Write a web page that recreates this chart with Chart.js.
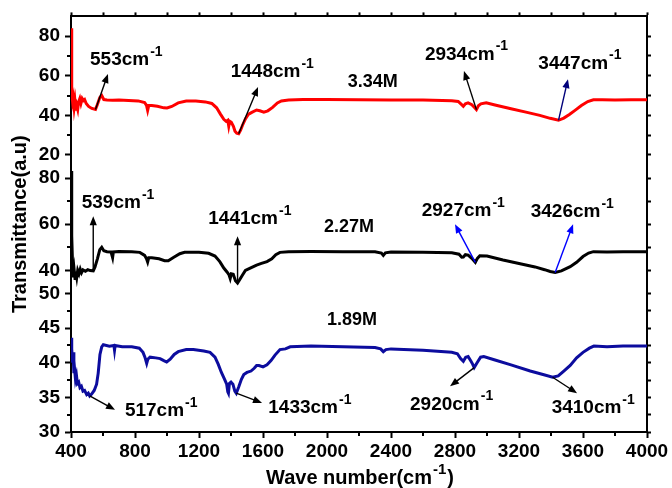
<!DOCTYPE html>
<html>
<head>
<meta charset="utf-8">
<script src="https://cdn.jsdelivr.net/npm/chart.js@4.4.1/dist/chart.umd.min.js"></script>
<style>
  html, body { margin: 0; padding: 0; background: #fff; }
</style>
</head>
<body>
<canvas id="ftir" width="672" height="488"></canvas>
<script>
// FT-IR transmittance spectra of three sample concentrations, stacked panels
const FONT = '"Liberation Sans", Arial, Helvetica, sans-serif';

const waveTicks = [400, 800, 1200, 1600, 2000, 2400, 2800, 3200, 3600, 4000];
const waveMinor = [600, 1000, 1400, 1800, 2200, 2600, 3000, 3400, 3800];

const ticksTop = [20, 40, 60, 80];
const minorTop = [30, 50, 70];
const ticksMid = [40, 60, 80];
const minorMid = [50, 70];
const ticksBot = [30, 35, 40, 45, 50];
const minorBot = [32.5, 37.5, 42.5, 47.5];

const samples = ['3.34M', '2.27M', '1.89M'];

// [wavenumber cm-1, transmittance]
const spec334 = [
  [400, 84], [403, 70], [406, 52], [410, 47], [415, 49], [420, 44], [425, 47], [430, 42.5],
  [436, 45], [442, 43], [448, 47], [455, 48.5], [462, 46], [470, 48.5], [478, 47.5], [485, 48],
  [495, 46], [510, 44.5], [530, 43.5], [553, 43], [565, 45.5], [580, 49], [592, 50], [605, 48],
  [625, 47.8], [660, 47.6], [700, 47.8], [760, 47.5], [820, 47.3], [860, 46.5], [872, 45],
  [879, 42.5], [886, 45], [905, 45], [940, 44.6], [980, 43.8], [1000, 43.7], [1030, 44.5],
  [1070, 46.3], [1120, 47.2], [1180, 47.2], [1240, 46.8], [1280, 46], [1310, 43.8], [1335, 40.5],
  [1355, 38], [1370, 37], [1380, 37.5], [1386, 34.5], [1392, 37], [1402, 36.5], [1415, 34.5],
  [1425, 32], [1436, 31], [1448, 30.7], [1460, 32.5], [1472, 35], [1490, 38.2], [1508, 40.5],
  [1530, 41.5], [1560, 42.7], [1580, 42.3], [1605, 41.6], [1630, 42.3], [1660, 44], [1690, 46.3],
  [1715, 47.3], [1760, 47.8], [1850, 48], [2000, 48], [2200, 47.9], [2400, 47.8], [2600, 47.7],
  [2780, 47.4], [2820, 47], [2840, 45.5], [2852, 44.6], [2865, 45.8], [2882, 46.3], [2905, 45.4],
  [2922, 44], [2934, 42.9], [2946, 44.8], [2962, 45.8], [2995, 46.3], [3050, 45.2], [3150, 43.3],
  [3250, 41.5], [3330, 40], [3395, 38.5], [3447, 37.5], [3480, 38.6], [3515, 40.4], [3550, 42.5],
  [3590, 45], [3630, 47], [3665, 47.9], [3720, 47.9], [3800, 47.8], [3900, 47.9], [4000, 47.9]
];

const spec227 = [
  [400, 83], [403, 70], [406, 55], [410, 42], [415, 37], [420, 40], [425, 36.5], [430, 39.5],
  [436, 37], [442, 40], [450, 38.5], [458, 40.5], [466, 39], [475, 40.2], [490, 39.6], [505, 40.3],
  [520, 39.9], [539, 39.8], [550, 41.5], [565, 45], [580, 49], [592, 50], [605, 48.5], [625, 48.1],
  [650, 48], [660, 45.5], [665, 48], [700, 48.2], [780, 48.1], [830, 47.8], [860, 46.5], [872, 45],
  [879, 43.6], [886, 45.5], [905, 45.5], [950, 45], [985, 44.2], [1008, 44.2], [1040, 45.6],
  [1080, 47.2], [1110, 47.8], [1200, 47.9], [1260, 47.4], [1300, 46.2], [1330, 43.8], [1355, 41],
  [1375, 39.3], [1388, 38], [1395, 36.5], [1402, 38.5], [1414, 38.3], [1428, 35.5], [1441, 34.5],
  [1453, 35.8], [1470, 37.8], [1490, 40], [1520, 41], [1560, 42.3], [1590, 43], [1625, 43.8],
  [1655, 45], [1680, 46.8], [1706, 47.8], [1760, 48.1], [1900, 48.2], [2100, 48.1], [2300, 48.1],
  [2340, 47.5], [2352, 46.5], [2365, 47.6], [2400, 48], [2600, 47.9], [2780, 47.6], [2825, 47],
  [2842, 45.7], [2852, 45.8], [2865, 46.8], [2882, 46.6], [2905, 45.2], [2927, 43.5], [2940, 45.2],
  [2955, 46.3], [3000, 46.2], [3100, 44.5], [3200, 43], [3300, 41.5], [3360, 40.3], [3395, 39.5],
  [3426, 39.1], [3465, 39.8], [3520, 41.6], [3560, 43.5], [3600, 46], [3635, 47.5], [3665, 48.1],
  [3750, 48], [3850, 48.1], [4000, 48.1]
];

const spec189 = [
  [400, 43.6], [403, 43.3], [406, 42], [410, 40], [413, 41.5], [418, 38.5], [422, 39.2], [428, 37.6],
  [434, 38.2], [440, 37], [448, 37.2], [456, 36.4], [465, 36.6], [475, 35.9], [485, 36], [498, 35.4],
  [508, 35.6], [517, 35.2], [530, 35.5], [545, 36], [560, 36.9], [570, 38.5], [581, 41.2],
  [592, 42.3], [602, 42.6], [640, 42.4], [668, 42.5], [672, 41.8], [676, 42.5], [720, 42.3],
  [780, 42.3], [827, 42.1], [850, 41.5], [862, 40.8], [873, 39.9], [880, 40.5], [894, 40.8],
  [930, 40.7], [957, 40.6], [980, 40.3], [998, 40.1], [1020, 40.5], [1045, 41.2], [1070, 41.6],
  [1120, 41.9], [1165, 41.9], [1230, 41.7], [1269, 41.5], [1300, 40.8], [1320, 39.8], [1340, 38.6],
  [1360, 37.6], [1373, 36.9], [1380, 35.8], [1384, 35.6], [1390, 37], [1400, 37.2], [1412, 36.9],
  [1424, 35.9], [1433, 35.6], [1448, 36.5], [1465, 37.6], [1480, 38.3], [1500, 38.6], [1525, 38.8],
  [1545, 39.2], [1560, 39.6], [1575, 39.6], [1600, 39.4], [1625, 39.7], [1650, 40.3], [1675, 41.1],
  [1706, 41.9], [1740, 42], [1770, 42.3], [1900, 42.4], [2100, 42.3], [2300, 42.2], [2335, 42],
  [2352, 41.6], [2368, 41.9], [2400, 42], [2600, 41.8], [2780, 41.5], [2815, 41.3], [2835, 40.6],
  [2852, 40.2], [2867, 40.8], [2882, 40.9], [2900, 40.2], [2910, 39.8], [2920, 39.3], [2938, 40],
  [2960, 40.8], [2980, 40.9], [3050, 40.4], [3150, 39.7], [3270, 38.8], [3350, 38.3], [3410, 37.9],
  [3445, 38.1], [3480, 38.8], [3520, 39.6], [3560, 40.7], [3600, 41.5], [3640, 42.1], [3668, 42.4],
  [3750, 42.3], [3850, 42.4], [4000, 42.4]
];

const peaks334 = [553, 1448, 2934, 3447];
const peaks227 = [539, 1441, 2927, 3426];
const peaks189 = [517, 1433, 2920, 3410];

// Callout layout: arrow heads and text anchors (left/baseline) in axis units
const panels = [
  { axis: 'yTop', series: spec334, peaks: peaks334, name: samples[0], nameAt: [2129, 54.3],
    heads: [[631, 60.9], [1569, 54.3], [2856, 62.4], [3506, 58.3]],
    texts: [[519, 65.2], [1398, 59.3], [2612, 68.2], [3321, 63.5]],
    arrowColors: ['#000', '#000', '#000', '#00007a'], minor: minorTop },
  { axis: 'yMid', series: spec227, peaks: peaks227, name: samples[1], nameAt: [1981, 56.5],
    heads: [[539, 63.4], [1441, 54.8], [2800, 60.0], [3538, 60.0]],
    texts: [[467, 67.0], [1258, 59.9], [2592, 63.4], [3273, 63.0]],
    arrowColors: ['#000', '#000', '#0000ff', '#0000ff'], minor: minorMid },
  { axis: 'yBot', series: spec189, peaks: peaks189, name: samples[2], nameAt: [2000, 45.4],
    heads: [[675, 33.2], [1594, 34.2], [2769, 36.6], [3563, 35.6]],
    texts: [[737, 32.3], [1633, 32.7], [2519, 33.2], [3404, 32.7]],
    arrowColors: ['#000', '#000', '#000', '#000'], minor: minorBot }
];

function valueAt(series, wn) {
  for (let i = 1; i < series.length; i++) {
    const [x0, y0] = series[i - 1];
    const [x1, y1] = series[i];
    if (wn >= x0 && wn <= x1) return y0 + (y1 - y0) * (wn - x0) / (x1 - x0);
  }
  return series[series.length - 1][1];
}

function drawSupText(ctx, x, y, main, sup, tail, size, align) {
  const mainFont = 'bold ' + size + 'px ' + FONT;
  const supFont = 'bold ' + Math.round(size * 0.75) + 'px ' + FONT;
  ctx.font = mainFont;
  const wMain = ctx.measureText(main).width;
  ctx.font = supFont;
  const wSup = ctx.measureText(sup).width;
  ctx.font = mainFont;
  const wTail = tail ? ctx.measureText(tail).width : 0;
  let x0 = x;
  if (align === 'center') x0 = x - (wMain + wSup + wTail) / 2;
  ctx.textAlign = 'left';
  ctx.textBaseline = 'alphabetic';
  ctx.fillText(main, x0, y);
  ctx.font = supFont;
  ctx.fillText(sup, x0 + wMain + 1, y - size * 0.5);
  if (tail) {
    ctx.font = mainFont;
    ctx.fillText(tail, x0 + wMain + wSup + 2, y);
  }
}

function drawArrow(ctx, x0, y0, x1, y1, color) {
  const ang = Math.atan2(y1 - y0, x1 - x0);
  const len = 9, half = 3.6;
  ctx.save();
  ctx.strokeStyle = color;
  ctx.fillStyle = color;
  ctx.lineWidth = 1.4;
  ctx.beginPath();
  ctx.moveTo(x0, y0);
  ctx.lineTo(x1 - Math.cos(ang) * len * 0.8, y1 - Math.sin(ang) * len * 0.8);
  ctx.stroke();
  ctx.beginPath();
  ctx.moveTo(x1, y1);
  ctx.lineTo(x1 - Math.cos(ang) * len - Math.sin(ang) * half, y1 - Math.sin(ang) * len + Math.cos(ang) * half);
  ctx.lineTo(x1 - Math.cos(ang) * len + Math.sin(ang) * half, y1 - Math.sin(ang) * len - Math.cos(ang) * half);
  ctx.closePath();
  ctx.fill();
  ctx.restore();
}

const calloutPlugin = {
  id: 'peakCallouts',
  afterDraw(chart) {
    const ctx = chart.ctx;
    const xs = chart.scales.x;
    const L = Math.round(xs.left), B = Math.round(xs.top);
    ctx.save();
    // short minor ticks on the left and bottom axes
    ctx.fillStyle = '#000';
    waveMinor.forEach(v => ctx.fillRect(Math.round(xs.getPixelForValue(v)) - 1, B, 2, 4));
    panels.forEach(p => {
      const ys = chart.scales[p.axis];
      p.minor.forEach(v => ctx.fillRect(L - 4, Math.round(ys.getPixelForValue(v)) - 1, 4, 2));
    });

    // peak callouts
    panels.forEach(p => {
      const ys = chart.scales[p.axis];
      p.peaks.forEach((wn, i) => {
        const tx = xs.getPixelForValue(wn);
        const ty = ys.getPixelForValue(valueAt(p.series, wn));
        const hx = xs.getPixelForValue(p.heads[i][0]);
        const hy = ys.getPixelForValue(p.heads[i][1]);
        drawArrow(ctx, tx, ty, hx, hy, p.arrowColors[i]);
        ctx.fillStyle = '#000';
        drawSupText(ctx, xs.getPixelForValue(p.texts[i][0]), ys.getPixelForValue(p.texts[i][1]),
          wn + 'cm', '-1', '', 19, 'left');
      });
      ctx.fillStyle = '#000';
      ctx.font = 'bold 18px ' + FONT;
      ctx.textAlign = 'left';
      ctx.textBaseline = 'alphabetic';
      ctx.fillText(p.name, xs.getPixelForValue(p.nameAt[0]), ys.getPixelForValue(p.nameAt[1]));
    });

    // x axis title
    ctx.fillStyle = '#000';
    drawSupText(ctx, (xs.left + xs.right) / 2, 484, 'Wave number(cm', '-1', ')', 20, 'center');
    ctx.restore();
  }
};

const tickGrid = len => ({
  display: true, drawOnChartArea: false, drawTicks: true,
  tickLength: len, tickWidth: 2, tickColor: '#000'
});
const frameBorder = { display: true, color: '#000', width: 2 };

function yAxis(minV, maxV, major, withTitle) {
  return {
    type: 'linear',
    position: 'left',
    stack: 'spectra',
    stackWeight: 1,
    min: minV,
    max: maxV,
    afterBuildTicks: s => { s.ticks = major.map(v => ({ value: v })); },
    afterFit: s => { s.width = 71; },
    ticks: {
      color: '#000', padding: 5, autoSkip: false,
      callback: v => String(v),
      font: { family: FONT, size: 19, weight: 'bold' }
    },
    grid: tickGrid(6),
    border: frameBorder,
    title: withTitle ? {
      display: true, text: 'Transmittance(a.u)', color: '#000',
      font: { family: FONT, size: 20, weight: 'bold' }, padding: { top: 8, bottom: 0 }
    } : { display: false }
  };
}

// mirrored right-hand axis of each panel: tick marks only
function rAxis(minV, maxV, major, minor) {
  return {
    type: 'linear',
    position: 'right',
    stack: 'spectraRight',
    stackWeight: 1,
    min: minV,
    max: maxV,
    afterBuildTicks: s => { s.ticks = major.concat(minor).sort((a, b) => a - b).map(v => ({ value: v })); },
    afterFit: s => { s.width = 25; },
    ticks: { display: false },
    grid: tickGrid(4),
    border: frameBorder
  };
}

const mkSet = (series, axis, color) => ({
  data: series.map(([x, y]) => ({ x, y })),
  yAxisID: axis,
  xAxisID: 'x',
  borderColor: color,
  borderWidth: 3,
  pointRadius: 0,
  tension: 0,
  fill: false
});

new Chart(document.getElementById('ftir'), {
  type: 'line',
  data: {
    datasets: [
      mkSet(spec334, 'yTop', '#ff0000'),
      mkSet(spec227, 'yMid', '#000000'),
      mkSet(spec189, 'yBot', '#0c0c9e')
    ]
  },
  options: {
    responsive: false,
    animation: false,
    devicePixelRatio: 1,
    layout: { padding: 0 },
    plugins: { legend: { display: false }, tooltip: { enabled: false } },
    scales: {
      x: {
        type: 'linear',
        position: 'bottom',
        min: 400,
        max: 4000,
        afterBuildTicks: s => { s.ticks = waveTicks.map(v => ({ value: v })); },
        afterFit: s => { s.height = 56; },
        ticks: {
          color: '#000', padding: 2, maxRotation: 0, autoSkip: false,
          callback: v => String(v),
          font: { family: FONT, size: 19, weight: 'bold' }
        },
        grid: tickGrid(6),
        border: frameBorder
      },
      xTop: {
        type: 'linear',
        position: 'top',
        min: 400,
        max: 4000,
        afterBuildTicks: s => { s.ticks = waveTicks.concat(waveMinor).sort((a, b) => a - b).map(v => ({ value: v })); },
        afterFit: s => { s.height = 14; },
        ticks: { display: false },
        grid: tickGrid(4),
        border: frameBorder
      },
      yBot: yAxis(30, 50, ticksBot, false),
      yMid: yAxis(30, 90, ticksMid, true),
      yTop: yAxis(20, 90, ticksTop, false),
      rTop: rAxis(20, 90, ticksTop, minorTop),
      rMid: rAxis(30, 90, ticksMid, minorMid),
      rBot: rAxis(30, 50, ticksBot, minorBot)
    }
  },
  plugins: [calloutPlugin]
});
</script>
</body>
</html>
